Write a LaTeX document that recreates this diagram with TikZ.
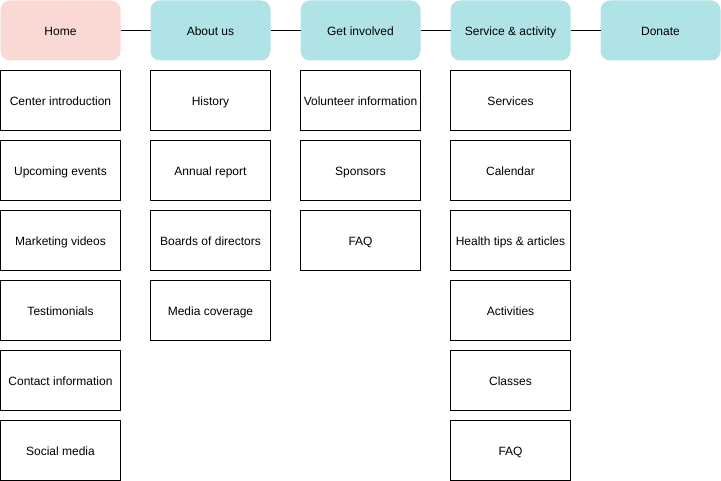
\documentclass[tikz,border=0pt]{standalone}
\usepackage{fontspec}
\setmainfont{Liberation Sans}
\definecolor{lightpink}{HTML}{FAD9D5}
\definecolor{lightteal}{HTML}{B0E3E6}

\begin{document}
\begin{tikzpicture}[x=1pt,y=-1pt,line width=1pt,
    menu/.style={rounded corners=9pt,minimum width=119pt,minimum height=59pt,inner sep=0pt,text height=10.5pt,text depth=0pt,font=\fontsize{12pt}{14pt}\selectfont},
    page/.style={draw=black,minimum width=120pt,minimum height=60pt,inner sep=0pt,text height=10.5pt,text depth=0pt,font=\fontsize{12pt}{14pt}\selectfont}]

\useasboundingbox (0,0) rectangle (721,481);

%% top menu
\node [menu,fill=lightpink,draw=lightpink] (home) at (60.5,30.5) {Home};
\node [menu,fill=lightteal,draw=lightteal] (about) at (210.5,30.5) {About us};
\node [menu,fill=lightteal,draw=lightteal] (involved) at (360.5,30.5) {Get involved};
\node [menu,fill=lightteal,draw=lightteal] (service) at (510.5,30.5) {Service \& activity};
\node [menu,fill=lightteal,draw=lightteal] (donate) at (660.5,30.5) {Donate};
% links
\draw (home) -- (about);
\draw (about) -- (involved);
\draw (involved) -- (service);
\draw (service) -- (donate);

%% pages
% home
\node [page] (home1) at (60.5,100.5) {Center introduction};
\node [page] (home2) at (60.5,170.5) {Upcoming events};
\node [page] (home3) at (60.5,240.5) {Marketing videos};
\node [page] (home4) at (60.5,310.5) {Testimonials};
\node [page] (home5) at (60.5,380.5) {Contact information};
\node [page] (home6) at (60.5,450.5) {Social media};
% about us
\node [page] (about1) at (210.5,100.5) {History};
\node [page] (about2) at (210.5,170.5) {Annual report};
\node [page] (about3) at (210.5,240.5) {Boards of directors};
\node [page] (about4) at (210.5,310.5) {Media coverage};
% get involved
\node [page] (involved1) at (360.5,100.5) {Volunteer information};
\node [page] (involved2) at (360.5,170.5) {Sponsors};
\node [page] (involved3) at (360.5,240.5) {FAQ};
% service & activity
\node [page] (service1) at (510.5,100.5) {Services};
\node [page] (service2) at (510.5,170.5) {Calendar};
\node [page] (service3) at (510.5,240.5) {Health tips \& articles};
\node [page] (service4) at (510.5,310.5) {Activities};
\node [page] (service5) at (510.5,380.5) {Classes};
\node [page] (service6) at (510.5,450.5) {FAQ};

\end{tikzpicture}
\end{document}
